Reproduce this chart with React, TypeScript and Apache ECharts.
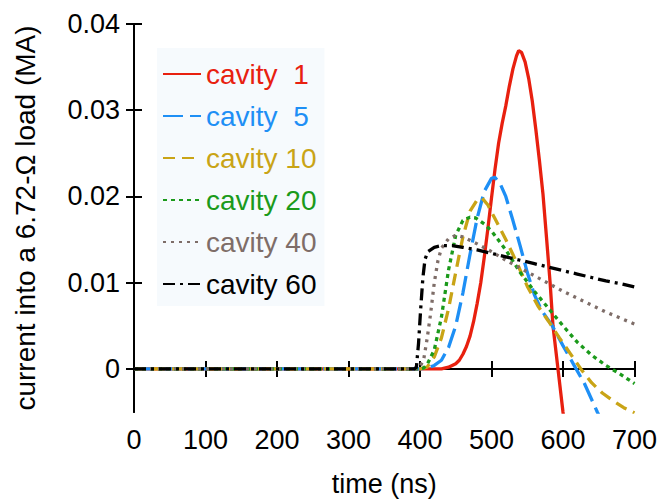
import React, { useEffect, useRef } from "react";
import * as echarts from "echarts";

const seriesNames = ["cavity  1", "cavity  5", "cavity 10", "cavity 20", "cavity 40", "cavity 60"];
const seriesColors = ["#e8200f", "#1e8ff5", "#c9a416", "#1b9a1b", "#7e6d68", "#000000"];

const t1 = [0, 430, 440, 450, 455, 460, 465, 470, 475, 480, 485, 490, 495, 500, 505, 510, 515, 520, 525, 530, 535, 538, 542, 547, 552, 557, 562, 567, 572, 577, 582, 586, 593, 600, 606];
const i1 = [0, 0, 0.0002, 0.0006, 0.001, 0.0017, 0.0026, 0.0038, 0.0055, 0.0076, 0.01, 0.013, 0.0163, 0.0198, 0.0232, 0.0262, 0.0285, 0.0305, 0.0328, 0.0348, 0.0363, 0.0369, 0.0367, 0.0356, 0.0337, 0.0311, 0.0278, 0.0242, 0.0203, 0.0152, 0.01, 0.005, 0, -0.005, -0.009];

const t5 = [0, 400, 410, 420, 430, 440, 450, 460, 470, 480, 490, 500, 505, 512, 520, 530, 540, 550, 560, 570, 585, 600, 615, 630, 648, 655];
const i5 = [0, 0, 0.0001, 0.0004, 0.001, 0.0025, 0.005, 0.0088, 0.0133, 0.0175, 0.0206, 0.0221, 0.0222, 0.0215, 0.02, 0.0172, 0.0143, 0.0112, 0.0086, 0.0068, 0.005, 0.0027, 0.0005, -0.0017, -0.005, -0.0062];

const t10 = [0, 400, 410, 420, 430, 440, 450, 460, 470, 480, 487, 495, 505, 520, 535, 550, 565, 580, 595, 610, 625, 640, 655, 670, 685, 700];
const i10 = [0, 0, 0.0002, 0.0014, 0.0036, 0.007, 0.0112, 0.0153, 0.0183, 0.0196, 0.0198, 0.019, 0.0174, 0.015, 0.0124, 0.0096, 0.0073, 0.0055, 0.0036, 0.0018, 0, -0.0016, -0.0028, -0.0037, -0.0045, -0.0051];

const t20 = [0, 400, 405, 410, 420, 430, 440, 450, 460, 470, 478, 490, 500, 520, 540, 560, 580, 600, 620, 640, 660, 680, 700];
const i20 = [0, 0, 0.0001, 0.0005, 0.0022, 0.006, 0.0115, 0.0155, 0.0172, 0.0176, 0.0175, 0.0168, 0.016, 0.0138, 0.0112, 0.009, 0.007, 0.005, 0.0031, 0.0016, 0.0004, -0.0006, -0.0017];

const t40 = [0, 395, 400, 405, 410, 415, 420, 425, 430, 440, 450, 460, 480, 500, 520, 540, 560, 580, 600, 620, 640, 660, 680, 700];
const i40 = [0, 0, 0.0003, 0.001, 0.0035, 0.0065, 0.01, 0.0125, 0.014, 0.0151, 0.0155, 0.0153, 0.0145, 0.0136, 0.0126, 0.0117, 0.0108, 0.0099, 0.009, 0.0082, 0.0074, 0.0066, 0.0059, 0.0052];

const t60 = [0, 392, 395, 398, 401, 404, 407, 411, 420, 430, 445, 460, 480, 500, 520, 540, 560, 580, 600, 620, 640, 660, 680, 700];
const i60 = [0, 0, 0.0002, 0.003, 0.007, 0.0105, 0.0127, 0.0136, 0.0141, 0.0143, 0.0143, 0.0141, 0.0138, 0.0134, 0.013, 0.0126, 0.0122, 0.0118, 0.0114, 0.011, 0.0106, 0.0102, 0.0099, 0.0095];

const xTicks = [0, 100, 200, 300, 400, 500, 600, 700];
const yTicks = [0, 0.01, 0.02, 0.03, 0.04];

const allT = [t1, t5, t10, t20, t40, t60];
const allI = [i1, i5, i10, i20, i40, i60];
const dashes: (number[] | "solid")[] = ["solid", [20, 7], [12, 7], [4, 4], [3, 5], [12, 5, 3, 5]];

const FONT = "Liberation Sans, Arial, Helvetica, sans-serif";
const FS = 27;
const FS_BIG = 28;

export default function App() {
  const ref = useRef<HTMLDivElement>(null);
  useEffect(() => {
    document.body.style.margin = "0";
    if (!ref.current) return;
    const chart = echarts.init(ref.current, null, { renderer: "svg" });
    const series = seriesNames.map((name, k) => ({
      name,
      type: "line",
      xAxisIndex: 0,
      yAxisIndex: 0,
      data: allT[k].map((t, j) => [t, allI[k][j]]),
      symbol: "none",
      showSymbol: false,
      clip: true,
      lineStyle: { color: seriesColors[k], width: 3.3, type: dashes[k], cap: "butt" },
      itemStyle: { color: seriesColors[k] },
    }));
    const axisLineStyle = { color: "#000", width: 2 };
    chart.setOption({
      animation: false,
      backgroundColor: "#fff",
      textStyle: { fontFamily: FONT },
      grid: { left: 134, right: 23, top: 24, bottom: 84, containLabel: false },
      legend: {
        orient: "vertical",
        left: 157,
        top: 48,
        padding: [11, 8, 7, 5],
        backgroundColor: "#f6fafd",
        itemWidth: 38,
        itemHeight: 14,
        itemGap: 12,
        selectedMode: false,
        itemStyle: { opacity: 0 },
        textStyle: { fontSize: FS_BIG, fontFamily: FONT, lineHeight: 30 },
        data: seriesNames.map((n, k) => ({
          name: n,
          itemStyle: { opacity: 0 },
          textStyle: { color: seriesColors[k], fontSize: FS_BIG, fontFamily: FONT, lineHeight: 30 },
        })),
      },
      xAxis: [
        {
          type: "value",
          min: 0,
          max: 700,
          interval: 100,
          position: "bottom",
          name: "time (ns)",
          nameLocation: "middle",
          nameGap: 58,
          nameTextStyle: { fontSize: FS, color: "#000", fontFamily: FONT },
          axisLine: { show: true, lineStyle: axisLineStyle },
          axisTick: { show: true, inside: true, length: 8, lineStyle: axisLineStyle, customValues: xTicks },
          axisLabel: { fontSize: FS, color: "#000", margin: 14, fontFamily: FONT, customValues: xTicks },
          splitLine: { show: false },
        },
        {
          type: "value",
          min: 0,
          max: 700,
          interval: 100,
          position: "top",
          axisLine: { show: true, lineStyle: axisLineStyle },
          axisTick: { show: true, inside: true, length: 8, lineStyle: axisLineStyle },
          axisLabel: { show: false },
          splitLine: { show: false },
        },
      ],
      yAxis: [
        {
          type: "value",
          min: -0.005,
          max: 0.04,
          position: "left",
          name: "current into a 6.72-Ω load (MA)",
          nameLocation: "middle",
          nameGap: 95,
          nameTextStyle: { fontSize: FS_BIG, color: "#000", fontFamily: FONT },
          axisLine: { show: true, lineStyle: axisLineStyle },
          axisTick: { show: true, inside: true, length: 8, lineStyle: axisLineStyle, customValues: yTicks },
          axisLabel: {
            fontSize: FS,
            color: "#000",
            margin: 14,
            fontFamily: FONT,
            customValues: yTicks,
            formatter: (v: number) => (Math.abs(v) < 1e-9 ? "0" : String(Math.round(v * 100) / 100)),
          },
          splitLine: { show: false },
        },
        {
          type: "value",
          min: -0.005,
          max: 0.04,
          position: "right",
          axisLine: { show: true, lineStyle: axisLineStyle },
          axisTick: { show: true, inside: true, length: 8, lineStyle: axisLineStyle, customValues: yTicks },
          axisLabel: { show: false, customValues: yTicks },
          splitLine: { show: false },
        },
      ],
      series,
    });
    return () => chart.dispose();
  }, []);
  return <div ref={ref} style={{ width: 660, height: 502 }} />;
}
